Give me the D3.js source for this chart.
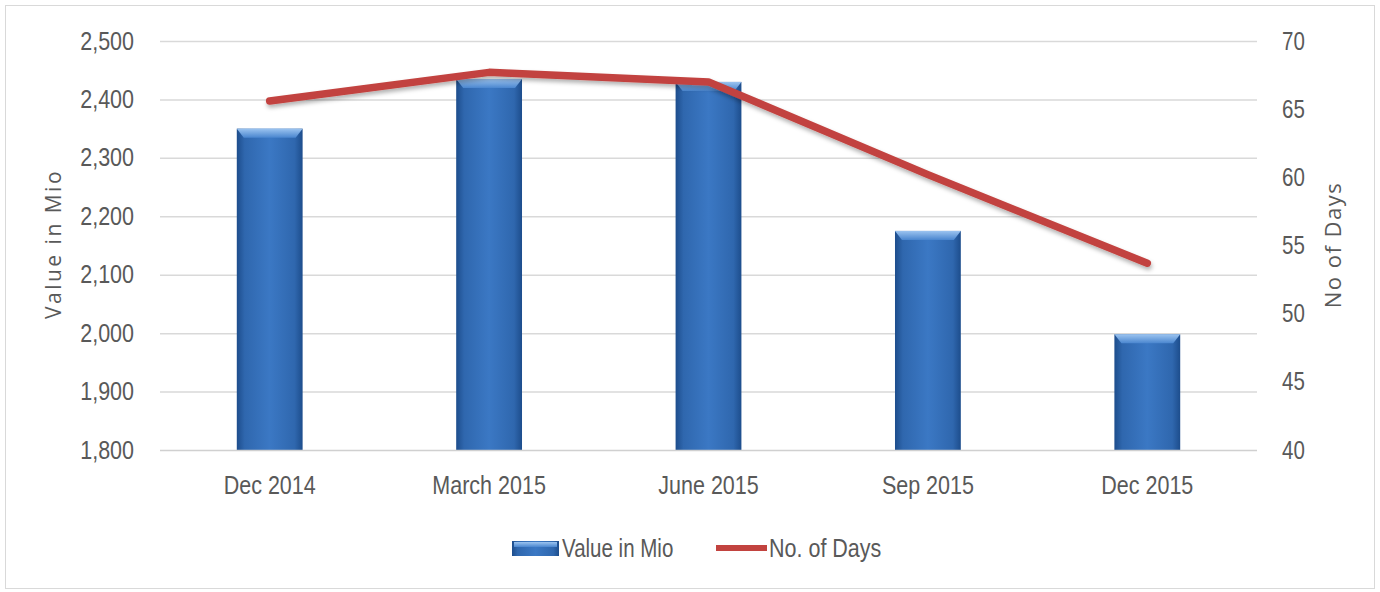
<!DOCTYPE html>
<html>
<head>
<meta charset="utf-8">
<script src="https://cdn.jsdelivr.net/npm/d3@7"></script>
<style>
  body { margin: 0; background: #fff; }
  text { font-family: "Liberation Sans", sans-serif; fill: #595959; }
  .title { font-family: "Open Sans", sans-serif; }
</style>
</head>
<body>
<div id="chart"></div>
<script>
// data
const categories = ["Dec 2014", "March 2015", "June 2015", "Sep 2015", "Dec 2015"];
const valueInMio = [2350, 2435, 2430, 2175, 1998];
const noOfDays = [65.6, 67.7, 67.0, 60.2, 53.7];
const leftTicks = [1800, 1900, 2000, 2100, 2200, 2300, 2400, 2500];
const rightTicks = [40, 45, 50, 55, 60, 65, 70];

const W = 1380, H = 592;
const plot = { left: 160, right: 1257, top: 41, bottom: 450 };

const svg = d3.select("#chart").append("svg")
  .attr("width", W).attr("height", H);

// squeeze text horizontally, the original font is a narrow one
function condense(sel, f) {
  sel.each(function () {
    const len = this.getComputedTextLength();
    d3.select(this).attr("textLength", len * f).attr("lengthAdjust", "spacingAndGlyphs");
  });
}

// gradients + shadow
const defs = svg.append("defs");
const g1 = defs.append("linearGradient").attr("id", "barGrad")
  .attr("x1", "0%").attr("x2", "100%").attr("y1", "0%").attr("y2", "0%");
g1.append("stop").attr("offset", "0%").attr("stop-color", "#1d4d8c");
g1.append("stop").attr("offset", "12%").attr("stop-color", "#2f67ae");
g1.append("stop").attr("offset", "50%").attr("stop-color", "#3b78c4");
g1.append("stop").attr("offset", "88%").attr("stop-color", "#2f67ae");
g1.append("stop").attr("offset", "100%").attr("stop-color", "#1d4d8c");
const g2 = defs.append("linearGradient").attr("id", "bevelGrad")
  .attr("x1", "0%").attr("x2", "0%").attr("y1", "0%").attr("y2", "100%");
g2.append("stop").attr("offset", "0%").attr("stop-color", "#9cc4f0");
g2.append("stop").attr("offset", "100%").attr("stop-color", "#4a86cf");
const sh = defs.append("filter").attr("id", "shadow")
  .attr("x", "-10%").attr("y", "-50%").attr("width", "120%").attr("height", "200%");
sh.append("feDropShadow").attr("dx", 1).attr("dy", 3).attr("stdDeviation", 2)
  .attr("flood-color", "#000").attr("flood-opacity", 0.3);

// chart border
svg.append("rect")
  .attr("x", 5.5).attr("y", 5.5).attr("width", W - 11).attr("height", H - 9)
  .attr("fill", "#fff").attr("stroke", "#d9d9d9");

const x = d3.scaleBand().domain(categories).range([plot.left, plot.right]);
const yL = d3.scaleLinear().domain([1800, 2500]).range([plot.bottom, plot.top]);
const yR = d3.scaleLinear().domain([40, 70]).range([plot.bottom, plot.top]);

// gridlines
svg.append("g").selectAll("line").data(leftTicks.slice(1)).enter().append("line")
  .attr("x1", plot.left).attr("x2", plot.right)
  .attr("y1", d => yL(d) + 0.5).attr("y2", d => yL(d) + 0.5)
  .attr("stroke", "#d9d9d9").attr("stroke-width", 1.5);

// left axis
const axL = svg.append("g").attr("transform", `translate(${plot.left},0)`)
  .call(d3.axisLeft(yL).tickValues(leftTicks).tickFormat(d3.format(",")).tickSize(0).tickPadding(26));
axL.select(".domain").remove();
axL.selectAll("text").style("font-size", "25px").attr("fill", "#595959")
  .style("font-family", "Liberation Sans, sans-serif").call(condense, 0.86);

// right axis
const axR = svg.append("g").attr("transform", `translate(${plot.right},0)`)
  .call(d3.axisRight(yR).tickValues(rightTicks).tickSize(0).tickPadding(25));
axR.select(".domain").remove();
axR.selectAll("text").style("font-size", "25px").attr("fill", "#595959")
  .style("font-family", "Liberation Sans, sans-serif").call(condense, 0.82);

// bars
const bw = x.bandwidth() * 0.3;
const bars = svg.append("g").selectAll("g").data(categories).enter().append("g");
bars.append("rect")
  .attr("x", (d) => x(d) + (x.bandwidth() - bw) / 2)
  .attr("y", (d, i) => yL(valueInMio[i]))
  .attr("width", bw)
  .attr("height", (d, i) => plot.bottom - yL(valueInMio[i]))
  .attr("fill", "url(#barGrad)");
bars.append("path")
  .attr("d", (d, i) => {
    const x0 = x(d) + (x.bandwidth() - bw) / 2, y0 = yL(valueInMio[i]);
    return `M${x0},${y0}L${x0 + bw},${y0}L${x0 + bw - 7},${y0 + 9}L${x0 + 7},${y0 + 9}Z`;
  })
  .attr("fill", "url(#bevelGrad)");

// bottom axis line
svg.append("line")
  .attr("x1", plot.left).attr("x2", plot.right)
  .attr("y1", plot.bottom + 0.5).attr("y2", plot.bottom + 0.5)
  .attr("stroke", "#d0d0d0").attr("stroke-width", 1.5);

// x labels
const axB = svg.append("g").attr("transform", `translate(0,${plot.bottom})`)
  .call(d3.axisBottom(x).tickSize(0).tickPadding(26));
axB.select(".domain").remove();
axB.selectAll("text").style("font-size", "25px").attr("fill", "#595959")
  .style("font-family", "Liberation Sans, sans-serif").call(condense, 0.86);

// line
const line = d3.line()
  .x((d, i) => x(categories[i]) + x.bandwidth() / 2)
  .y(d => yR(d));
svg.append("path")
  .datum(noOfDays)
  .attr("d", line)
  .attr("fill", "none")
  .attr("stroke", "#c2433f")
  .attr("stroke-width", 7.5)
  .attr("stroke-linecap", "round")
  .attr("stroke-linejoin", "round")
  .attr("filter", "url(#shadow)");

// axis titles
svg.append("text").attr("class", "title")
  .attr("transform", "translate(61,244) rotate(-90)")
  .attr("text-anchor", "middle")
  .style("font-size", "21px").style("letter-spacing", "2.5px")
  .text("Value in Mio");
svg.append("text").attr("class", "title")
  .attr("transform", "translate(1341,245) rotate(-90)")
  .attr("text-anchor", "middle")
  .style("font-size", "22px").style("letter-spacing", "1.5px")
  .text("No of Days");

// legend
const leg = svg.append("g");
leg.append("rect").attr("x", 512).attr("y", 541).attr("width", 47).attr("height", 15)
  .attr("fill", "url(#barGrad)");
leg.append("rect").attr("x", 514).attr("y", 542).attr("width", 43).attr("height", 5)
  .attr("fill", "url(#bevelGrad)");
leg.append("text").attr("x", 562).attr("y", 557)
  .style("font-size", "25px").text("Value in Mio").call(condense, 0.82);
leg.append("line").attr("x1", 716).attr("x2", 767).attr("y1", 548).attr("y2", 548)
  .attr("stroke", "#c2433f").attr("stroke-width", 6);
leg.append("text").attr("x", 769).attr("y", 557)
  .style("font-size", "25px").text("No. of Days").call(condense, 0.86);
</script>
</body>
</html>
